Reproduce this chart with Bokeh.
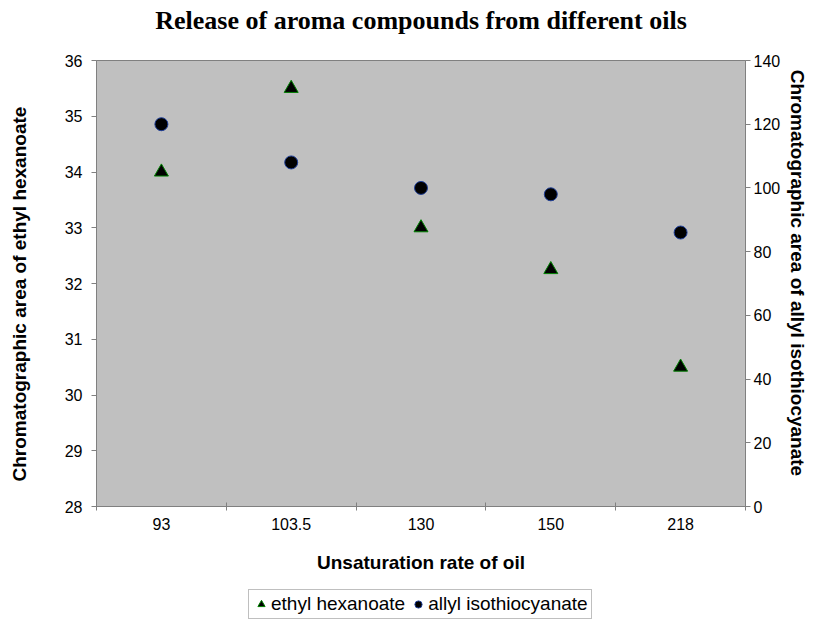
from bokeh.plotting import figure
from bokeh.layouts import column
from bokeh.models import Range1d, LinearAxis, FixedTicker, Legend, LegendItem
from bokeh.embed import file_html
from bokeh.resources import INLINE

# ---- data ----
categories = ["93", "103.5", "130", "150", "218"]
ethyl_hexanoate = [34.0, 35.5, 33.0, 32.25, 30.5]
allyl_isothiocyanate = [120, 108, 100, 98, 86]
left_ticks = [28, 29, 30, 31, 32, 33, 34, 35, 36]
right_ticks = [0, 20, 40, 60, 80, 100, 120, 140]
series_names = ["ethyl hexanoate", "allyl isothiocyanate"]
title_text = "Release of aroma compounds from different oils"

xpos = [i + 0.5 for i in range(len(categories))]

TRI = dict(marker="triangle", size=14, fill_color="black", line_color="#008000", line_width=1)
CIR = dict(marker="circle", size=13, fill_color="black", line_color="#1F3F99", line_width=1)
FONT = "Liberation Sans"

# ---- title strip ----
tf = figure(width=811, height=40, output_backend="svg", toolbar_location=None,
            x_axis_type=None, y_axis_type=None, title=title_text,
            min_border_left=0, min_border_right=0, min_border_top=34, min_border_bottom=0)
tf.outline_line_color = None
tf.background_fill_color = "white"
tf.border_fill_color = "white"
tf.xgrid.visible = False
tf.ygrid.visible = False
tf.title.text_font = "Liberation Serif"
tf.title.text_font_style = "bold"
tf.title.text_font_size = "26px"
tf.title.align = "center"
tf.title.text_color = "black"
tf.title.standoff = 0

# ---- main chart ----
p = figure(width=811, height=548, output_backend="svg", toolbar_location=None, title=None,
           x_range=Range1d(0, len(categories)), y_range=Range1d(28, 36),
           min_border_left=96, min_border_right=66, min_border_top=20, min_border_bottom=82)
p.extra_y_ranges = {"right": Range1d(0, 140)}

p.background_fill_color = "#C0C0C0"
p.border_fill_color = "white"
p.outline_line_color = "#808080"
p.xgrid.visible = False
p.ygrid.visible = False

# x axis
xa = p.xaxis[0]
xa.ticker = FixedTicker(ticks=xpos, minor_ticks=list(range(len(categories) + 1)))
xa.major_label_overrides = {x: c for x, c in zip(xpos, categories)}
xa.major_tick_line_color = None
xa.minor_tick_line_color = "#808080"
xa.minor_tick_in = 4
xa.minor_tick_out = 4
xa.axis_line_color = "#808080"
xa.major_label_text_font = FONT
xa.major_label_text_font_size = "16px"
xa.major_label_text_color = "black"
xa.major_label_standoff = 5
xa.axis_label = "Unsaturation rate of oil"
xa.axis_label_text_font = FONT
xa.axis_label_text_font_style = "bold"
xa.axis_label_text_font_size = "19px"
xa.axis_label_text_color = "black"
xa.axis_label_standoff = 19

# left axis
ya = p.yaxis[0]
ya.ticker = FixedTicker(ticks=left_ticks, minor_ticks=[])
ya.axis_line_color = "#808080"
ya.major_tick_line_color = "#808080"
ya.major_tick_in = 0
ya.major_tick_out = 5
ya.minor_tick_line_color = None
ya.major_label_text_font = FONT
ya.major_label_text_font_size = "16px"
ya.major_label_text_color = "black"
ya.major_label_standoff = 9
ya.axis_label = "Chromatographic  area  of  ethyl  hexanoate"
ya.axis_label_text_font = FONT
ya.axis_label_text_font_style = "bold"
ya.axis_label_text_font_size = "19px"
ya.axis_label_text_color = "black"
ya.axis_label_standoff = 32

# right axis
ra = LinearAxis(y_range_name="right", ticker=FixedTicker(ticks=right_ticks, minor_ticks=[]))
ra.axis_line_color = "#808080"
ra.major_tick_line_color = "#808080"
ra.major_tick_in = 0
ra.major_tick_out = 5
ra.minor_tick_line_color = None
ra.major_label_text_font = FONT
ra.major_label_text_font_size = "16px"
ra.major_label_text_color = "black"
ra.major_label_standoff = 3
ra.axis_label = "Chromatographic  area  of  allyl  isothiocyanate"
ra.axis_label_text_font = FONT
ra.axis_label_text_font_style = "bold"
ra.axis_label_text_font_size = "19px"
ra.axis_label_text_color = "black"
ra.axis_label_standoff = 4
p.add_layout(ra, "right")

# glyphs
p.scatter(xpos, ethyl_hexanoate, **TRI)
p.scatter(xpos, allyl_isothiocyanate, y_range_name="right", **CIR)

# ---- legend strip (renderers hidden; they only feed the legend glyphs) ----
lg = figure(width=811, height=32, output_backend="svg", toolbar_location=None,
            x_axis_type=None, y_axis_type=None,
            min_border_left=0, min_border_right=0, min_border_top=0, min_border_bottom=0)
lg.outline_line_color = None
lg.background_fill_color = "white"
lg.border_fill_color = "white"
lg.xgrid.visible = False
lg.ygrid.visible = False
l1 = lg.scatter(xpos, ethyl_hexanoate, visible=False, **TRI)
l2 = lg.scatter(xpos, allyl_isothiocyanate, visible=False, **CIR)

legend = Legend(items=[LegendItem(label=series_names[0], renderers=[l1]),
                       LegendItem(label=series_names[1], renderers=[l2])],
                orientation="horizontal", location=(152, 1))
legend.label_text_font = FONT
legend.label_text_font_size = "19px"
legend.label_text_color = "black"
legend.glyph_width = 18
legend.glyph_height = 20
legend.label_standoff = 1
legend.spacing = 4
legend.padding = 3
legend.margin = 0
legend.border_line_color = "#808080"
legend.background_fill_color = "white"
legend.label_height = 19
legend.inactive_fill_alpha = 0
lg.add_layout(legend, "center")

layout = column(tf, p, lg, spacing=0)
open("out.html", "w").write(file_html(layout, INLINE))
